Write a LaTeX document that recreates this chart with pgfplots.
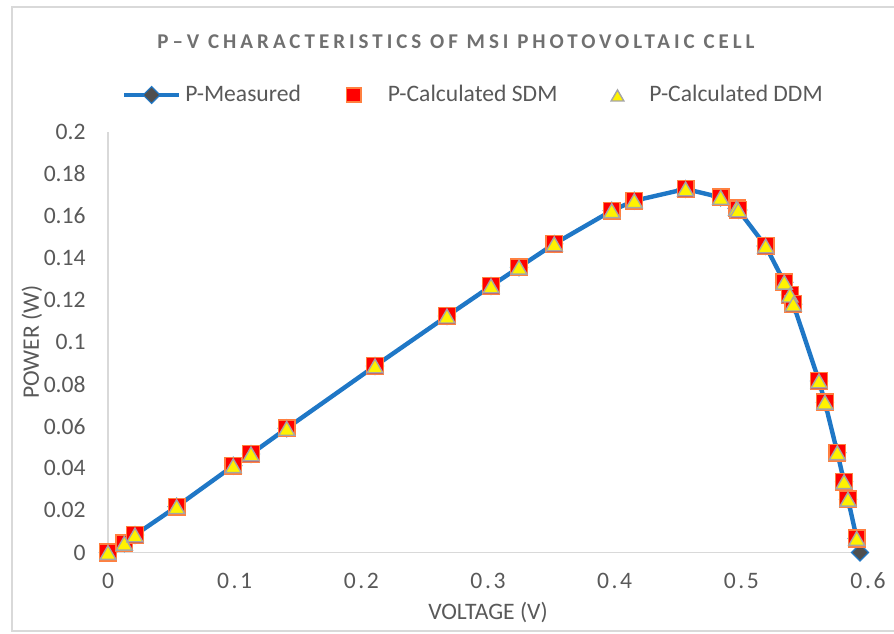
\documentclass[border=0pt]{standalone}
\usepackage{pgfplots}
\pgfplotsset{compat=1.18}
\usepackage{fontspec}
\setmainfont{Carlito}
\newfontfamily\titlefont[LetterSpace=19]{Carlito}
\definecolor{lineblue}{HTML}{1F77C6}
\definecolor{markgrey}{HTML}{4F4F4F}
\definecolor{sqorange}{HTML}{FF8040}
\definecolor{trigrey}{HTML}{A5A5A5}
\definecolor{textgrey}{HTML}{595959}
\definecolor{titlegrey}{HTML}{707070}
\definecolor{axisgrey}{HTML}{D9D9D9}
\newcommand{\fs}{\fontsize{11.8}{14}\selectfont}
\pgfplotsset{
  legmeas/.style={legend image code/.code={\draw[##1, mark=none] (0pt,0pt) -- (27.5pt,0pt); \draw[##1, only marks] plot coordinates {(13.75pt,0pt)};}},
  legsdm/.style={legend image code/.code={\path[draw=none,fill=none] (-24.5pt,0pt) -- (15pt,0pt); \draw[##1, only marks, every mark/.append style={scale=0.85}] plot coordinates {(0pt,0pt)};}},
  legddm/.style={legend image code/.code={\path[draw=none,fill=none] (-28pt,0pt) -- (14pt,0pt); \draw[##1, only marks, every mark/.append style={scale=0.8}] plot coordinates {(0pt,0pt)};}},
}
\begin{document}
\begin{tikzpicture}
\begin{axis}[
  name=ax,
  scale only axis, width=380pt, height=210.5pt,
  xmin=0, xmax=0.6, ymin=0, ymax=0.2,
  clip=false,
  axis lines*=left,
  axis line style={draw=axisgrey, line width=0.6pt},
  tick style={draw=none}, major tick length=0pt,
  xtick={0,0.1,0.2,0.3,0.4,0.5,0.6},
  xticklabels={0,0\kern1.3pt.\kern1.3pt1,0\kern1.3pt.\kern1.3pt2,0\kern1.3pt.\kern1.3pt3,0\kern1.3pt.\kern1.3pt4,0\kern1.3pt.\kern1.3pt5,0\kern1.3pt.\kern1.3pt6},
  ytick={0,0.02,0.04,0.06,0.08,0.1,0.12,0.14,0.16,0.18,0.2},
  yticklabels={0,0.02,0.04,0.06,0.08,0.1,0.12,0.14,0.16,0.18,0.2},
  xticklabel style={font=\fs, text=textgrey, inner sep=0pt, anchor=north, yshift=-10pt},
  yticklabel style={font=\fs, text=textgrey, inner sep=0pt, anchor=east, xshift=-11pt},
  xlabel={VOLTAGE (V)},
  ylabel={POWER (W)},
  xlabel style={font=\fs, text=textgrey, at={(axis description cs:0.5,0)}, anchor=center, yshift=-29.75pt},
  ylabel style={font=\fs, text=textgrey, at={(axis description cs:-0.1,0.5)}, anchor=center},
  title={P\textendash V CHARACTERISTICS OF MSI PHOTOVOLTAIC CELL},
  title style={font=\titlefont\bfseries\fontsize{10.5}{12}\selectfont, text=titlegrey, at={(axis description cs:0.4579,1.2126)}, anchor=center, yshift=-6pt},
  legend columns=3,
  legend style={at={(axis description cs:0.01776,1.0867)}, anchor=west, draw=none, fill=none,
    inner xsep=0pt, inner ysep=0pt, font=\fs, text=textgrey,
    nodes={inner sep=2pt}, cells={anchor=west},
    /tikz/every even column/.append style={column sep=0pt},
    /tikz/every odd column/.append style={column sep=0pt}},
]
\addplot[color=lineblue, line width=2.2pt, mark=square*, mark size=3pt,
  mark options={rotate=45, fill=markgrey, draw=lineblue, line width=0.6pt, solid},
  legmeas]
coordinates {
(0,0) (0.0129,0.0044) (0.0213,0.0083) (0.0542,0.0218) (0.0989,0.0412)
(0.1129,0.0468) (0.1411,0.0590) (0.2108,0.0886) (0.2676,0.1123) (0.3024,0.1266)
(0.3245,0.1355) (0.3523,0.1466) (0.3977,0.1624) (0.4155,0.1671) (0.4560,0.1727)
(0.4837,0.1687) (0.4963,0.1635) (0.4976,0.1627) (0.5192,0.1456) (0.5339,0.1284)
(0.5384,0.1223) (0.5410,0.1180) (0.5613,0.0815) (0.5660,0.0714) (0.5758,0.0474)
(0.5811,0.0336) (0.5842,0.0253) (0.5911,0.0067) (0.5937,0)
};
\addlegendentry{P-Measured}
\addplot[only marks, mark=square*, mark size=4.2pt,
  mark options={fill=red, draw=sqorange, line width=0.7pt},
  legsdm]
coordinates {
(0,0) (0.0129,0.0044) (0.0213,0.0083) (0.0542,0.0218) (0.0989,0.0412)
(0.1129,0.0468) (0.1411,0.0590) (0.2108,0.0886) (0.2676,0.1123) (0.3024,0.1266)
(0.3245,0.1355) (0.3523,0.1466) (0.3977,0.1624) (0.4155,0.1671) (0.4560,0.1727)
(0.4837,0.1687) (0.4963,0.1635) (0.4976,0.1627) (0.5192,0.1456) (0.5339,0.1284)
(0.5384,0.1223) (0.5410,0.1180) (0.5613,0.0815) (0.5660,0.0714) (0.5758,0.0474)
(0.5811,0.0336) (0.5842,0.0253) (0.5911,0.0067)
};
\addlegendentry{P-Calculated SDM}
\addplot[only marks, mark=triangle*, mark size=4.6pt,
  mark options={fill=yellow, draw=trigrey, line width=0.7pt, yshift=-1.15pt},
  legddm]
coordinates {
(0,0) (0.0129,0.0044) (0.0213,0.0083) (0.0542,0.0218) (0.0989,0.0412)
(0.1129,0.0468) (0.1411,0.0590) (0.2108,0.0886) (0.2676,0.1123) (0.3024,0.1266)
(0.3245,0.1355) (0.3523,0.1466) (0.3977,0.1624) (0.4155,0.1671) (0.4560,0.1727)
(0.4837,0.1687) (0.4963,0.1635) (0.4976,0.1627) (0.5192,0.1456) (0.5339,0.1284)
(0.5384,0.1223) (0.5410,0.1180) (0.5613,0.0815) (0.5660,0.0714) (0.5758,0.0474)
(0.5811,0.0336) (0.5842,0.0253) (0.5911,0.0067)
};
\addlegendentry{P-Calculated DDM}
\end{axis}
\draw[axisgrey, line width=0.6pt] ([shift={(-48pt,-39.25pt)}]ax.south west) rectangle ([shift={(400pt,272.75pt)}]ax.south west);
\pgfresetboundingbox
\path[use as bounding box] ([shift={(-54pt,-40.25pt)}]ax.south west) rectangle ([shift={(393pt,276.25pt)}]ax.south west);
\end{tikzpicture}
\end{document}
